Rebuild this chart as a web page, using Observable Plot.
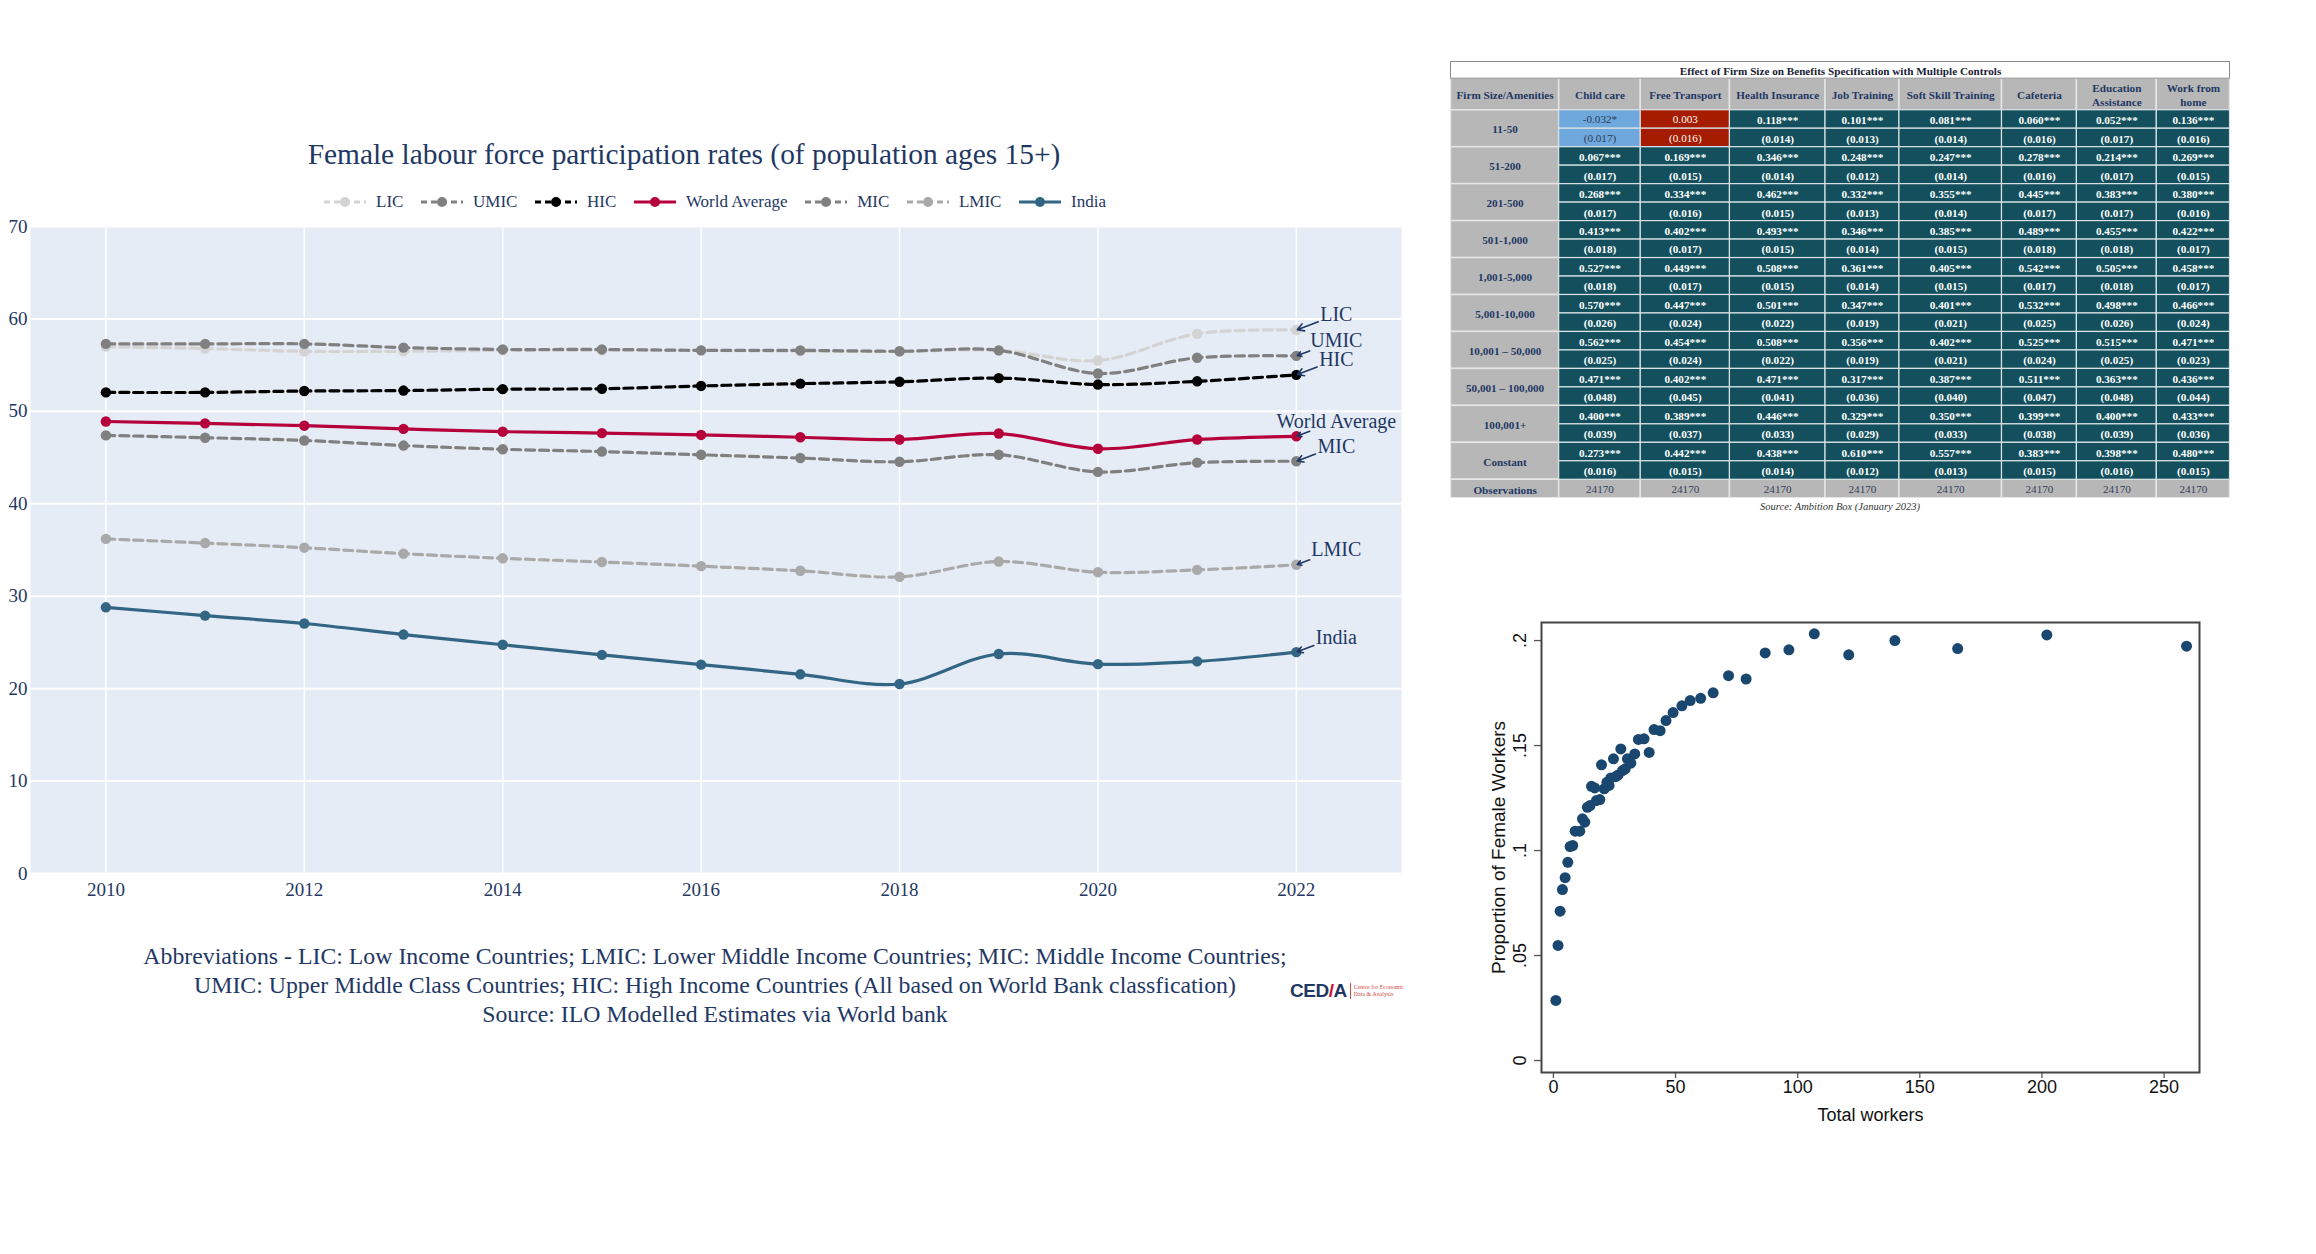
<!DOCTYPE html>
<html><head><meta charset="utf-8">
<script src="https://cdn.jsdelivr.net/npm/d3@7"></script>
<script src="https://cdn.jsdelivr.net/npm/@observablehq/plot@0.6"></script>
<style>
html,body{margin:0;padding:0;background:#fff;}
body{width:2316px;height:1254px;position:relative;overflow:hidden;font-family:"Liberation Serif","Times New Roman",serif;color:#1f3864;}
.abs{position:absolute;}
#legend{display:flex;align-items:center;justify-content:center;font-size:17px;}
#legend .item{display:flex;align-items:center;margin:0 8.8px;}
#legend svg{margin-right:10px;}
.cap{text-align:center;font-size:23.8px;line-height:29px;}
</style></head><body>
<div id="title" class="abs" style="left:0;top:138px;width:1368px;text-align:center;font-size:29.4px;line-height:32px;">Female labour force participation rates (of population ages 15+)</div>
<div id="legend" class="abs" style="left:0;top:192px;width:1430px;height:20px;"></div>
<div id="main" class="abs" style="left:0;top:215px;width:1420px;height:700px;"></div>
<div class="abs cap" style="left:0;top:942px;width:1430px;">Abbreviations - LIC: Low Income Countries; LMIC: Lower Middle Income Countries; MIC: Middle Income Countries;<br>UMIC: Upper Middle Class Countries; HIC: High Income Countries (All based on World Bank classfication)<br>Source: ILO Modelled Estimates via World bank</div>
<div class="abs" style="left:1290px;top:980px;display:flex;align-items:center;">
  <span style="font-family:'Liberation Sans',Arial,sans-serif;font-weight:bold;font-size:19px;color:#1f3864;letter-spacing:-0.5px;">CE<span style="color:#1f3864;">D</span><span style="color:#c8102e;">/</span>A</span>
  <span style="display:inline-block;width:1px;height:16px;background:#d04a4a;margin:0 3px;"></span>
  <span style="font-size:6px;line-height:7px;color:#d04a4a;">Centre for Economic<br>Data &amp; Analysis</span>
</div>
<div id="table" class="abs" style="left:1450px;top:61px;width:780px;height:437px;"></div>
<div class="abs" style="left:1450px;top:501px;width:780px;text-align:center;font-style:italic;font-size:10.5px;color:#333;">Source: Ambition Box (January 2023)</div>
<div id="scatter" class="abs" style="left:1480px;top:600px;width:740px;height:530px;"></div>
<script>
// ---------------- main chart data ----------------
const years = [2010, 2011, 2012, 2013, 2014, 2015, 2016, 2017, 2018, 2019, 2020, 2021, 2022];
const seriesNames = ["LIC", "UMIC", "HIC", "World Average", "MIC", "LMIC", "India"];
const licValues   = [57.0, 56.8, 56.5, 56.5, 56.6, 56.6, 56.6, 56.5, 56.5, 56.6, 55.5, 58.4, 58.8];
const umicValues  = [57.3, 57.3, 57.3, 56.9, 56.7, 56.7, 56.6, 56.6, 56.5, 56.6, 54.1, 55.8, 56.0];
const hicValues   = [52.05, 52.05, 52.2, 52.25, 52.4, 52.45, 52.75, 53.0, 53.2, 53.6, 52.9, 53.25, 53.95];
const worldValues = [48.9, 48.7, 48.45, 48.1, 47.8, 47.65, 47.45, 47.2, 46.95, 47.6, 45.95, 46.95, 47.3];
const micValues   = [47.4, 47.15, 46.85, 46.3, 45.9, 45.65, 45.3, 44.95, 44.55, 45.3, 43.45, 44.45, 44.6];
const lmicValues  = [36.2, 35.75, 35.25, 34.6, 34.1, 33.7, 33.25, 32.75, 32.1, 33.75, 32.6, 32.85, 33.4];
const indiaValues = [28.8, 27.9, 27.05, 25.85, 24.75, 23.65, 22.6, 21.55, 20.5, 23.75, 22.65, 22.95, 23.95];
const xTickValues = [2010, 2012, 2014, 2016, 2018, 2020, 2022];
const yTickValues = [0, 10, 20, 30, 40, 50, 60, 70];

// styles (not data)
const navy = "#1f3864";
const serif = "'Liberation Serif','Times New Roman',serif";
const seriesStyle = {
  "LIC":           {color: "#d3d3d3", dash: "9,5"},
  "UMIC":          {color: "#808080", dash: "9,5"},
  "HIC":           {color: "#000000", dash: "9,5"},
  "World Average": {color: "#b5003b", dash: null},
  "MIC":           {color: "#808080", dash: "9,5"},
  "LMIC":          {color: "#a9a9a9", dash: "9,5"},
  "India":         {color: "#336584", dash: null}
};
const seriesValues = [licValues, umicValues, hicValues, worldValues, micValues, lmicValues, indiaValues];
const rows = seriesNames.flatMap((name, s) => years.map((year, i) => ({series: name, year, value: seriesValues[s][i]})));

// legend
const legend = document.getElementById("legend");
seriesNames.forEach(name => {
  const st = seriesStyle[name];
  const item = document.createElement("div");
  item.className = "item";
  item.innerHTML = `<svg width="42" height="14"><line x1="0" y1="7" x2="42" y2="7" stroke="${st.color}" stroke-width="3" ${st.dash ? 'stroke-dasharray="6,4"' : ''}/><circle cx="21" cy="7" r="5" fill="${st.color}"/></svg><span>${name}</span>`;
  legend.appendChild(item);
});

// main chart geometry
const W = 1420, H = 700, mL = 30, mR = 19, mT = 11, mB = 42;
const xDomain = [2009.24, 2023.06], yDomain = [0, 70];
const pxPerYear = (W - mL - mR) / (xDomain[1] - xDomain[0]);
const pxPerUnit = (H - mT - mB) / (yDomain[1] - yDomain[0]);

// annotations: label offset relative to last point (px), like plotly ax/ay
const annOffset = [40, -15];
const canvas = document.createElement("canvas").getContext("2d");
canvas.font = "20px 'Liberation Serif'";
const lastYear = years[years.length - 1];
const annots = seriesNames.map((name, s) => {
  const v = seriesValues[s][seriesValues[s].length - 1];
  const w = canvas.measureText(name).width + 4, h = 20;
  const t = Math.min((w / 2) / Math.abs(annOffset[0]), (h / 2) / Math.abs(annOffset[1]));
  const tail = [annOffset[0] * (1 - t), annOffset[1] * (1 - t)];
  return {
    name,
    px: lastYear, py: v,
    lx: lastYear + annOffset[0] / pxPerYear, ly: v - annOffset[1] / pxPerUnit,
    tx: lastYear + tail[0] / pxPerYear, ty: v - tail[1] / pxPerUnit
  };
});

const lineMarks = seriesNames.flatMap(name => {
  const st = seriesStyle[name];
  const d = rows.filter(r => r.series === name);
  return [
    Plot.line(d, {x: "year", y: "value", stroke: st.color, strokeWidth: 3.2, strokeDasharray: st.dash ?? undefined, curve: "catmull-rom"}),
    Plot.dot(d, {x: "year", y: "value", fill: st.color, r: 5.2})
  ];
});

const main = Plot.plot({
  width: W, height: H, marginLeft: mL, marginRight: mR, marginTop: mT, marginBottom: mB,
  style: {fontFamily: serif, color: navy, background: "transparent"},
  x: {domain: xDomain},
  y: {domain: yDomain},
  marks: [
    Plot.frame({fill: "#e5ecf6", stroke: null}),
    Plot.gridX(xTickValues, {stroke: "#ffffff", strokeOpacity: 1, strokeWidth: 1.5}),
    Plot.gridY(yTickValues, {stroke: "#ffffff", strokeOpacity: 1, strokeWidth: 2}),
    Plot.axisX(xTickValues, {tickSize: 0, tickPadding: 9, tickFormat: d => String(d), fontSize: 19, fill: navy, label: null}),
    Plot.axisY(yTickValues, {tickSize: 0, tickPadding: 3, fontSize: 19, fill: navy, label: null}),
    ...lineMarks,
    Plot.arrow(annots, {x1: "tx", y1: "ty", x2: "px", y2: "py", stroke: navy, strokeWidth: 1.6, headLength: 7, insetEnd: 1}),
    Plot.text(annots, {x: "lx", y: "ly", text: "name", fontSize: 20, fill: navy, textAnchor: "middle", lineAnchor: "middle"})
  ]
});
document.getElementById("main").appendChild(main);

// ---------------- regression table ----------------
const tableTitle = "Effect of Firm Size on Benefits Specification with Multiple Controls";
const headerLabels = ["Firm Size/Amenities", "Child care", "Free Transport", "Health Insurance", "Job Training", "Soft Skill Training", "Cafeteria", "Education\nAssistance", "Work from\nhome"];
const firmSizes = ["11-50", "51-200", "201-500", "501-1,000", "1,001-5,000", "5,001-10,000", "10,001 – 50,000", "50,001 – 100,000", "100,001+", "Constant"];
const childCareCoef = ["-0.032*", "0.067***", "0.268***", "0.413***", "0.527***", "0.570***", "0.562***", "0.471***", "0.400***", "0.273***"];
const childCareSE   = ["(0.017)", "(0.017)", "(0.017)", "(0.018)", "(0.018)", "(0.026)", "(0.025)", "(0.048)", "(0.039)", "(0.016)"];
const transportCoef = ["0.003", "0.169***", "0.334***", "0.402***", "0.449***", "0.447***", "0.454***", "0.402***", "0.389***", "0.442***"];
const transportSE   = ["(0.016)", "(0.015)", "(0.016)", "(0.017)", "(0.017)", "(0.024)", "(0.024)", "(0.045)", "(0.037)", "(0.015)"];
const healthCoef    = ["0.118***", "0.346***", "0.462***", "0.493***", "0.508***", "0.501***", "0.508***", "0.471***", "0.446***", "0.438***"];
const healthSE      = ["(0.014)", "(0.014)", "(0.015)", "(0.015)", "(0.015)", "(0.022)", "(0.022)", "(0.041)", "(0.033)", "(0.014)"];
const jobCoef       = ["0.101***", "0.248***", "0.332***", "0.346***", "0.361***", "0.347***", "0.356***", "0.317***", "0.329***", "0.610***"];
const jobSE         = ["(0.013)", "(0.012)", "(0.013)", "(0.014)", "(0.014)", "(0.019)", "(0.019)", "(0.036)", "(0.029)", "(0.012)"];
const softCoef      = ["0.081***", "0.247***", "0.355***", "0.385***", "0.405***", "0.401***", "0.402***", "0.387***", "0.350***", "0.557***"];
const softSE        = ["(0.014)", "(0.014)", "(0.014)", "(0.015)", "(0.015)", "(0.021)", "(0.021)", "(0.040)", "(0.033)", "(0.013)"];
const cafeCoef      = ["0.060***", "0.278***", "0.445***", "0.489***", "0.542***", "0.532***", "0.525***", "0.511***", "0.399***", "0.383***"];
const cafeSE        = ["(0.016)", "(0.016)", "(0.017)", "(0.018)", "(0.017)", "(0.025)", "(0.024)", "(0.047)", "(0.038)", "(0.015)"];
const eduCoef       = ["0.052***", "0.214***", "0.383***", "0.455***", "0.505***", "0.498***", "0.515***", "0.363***", "0.400***", "0.398***"];
const eduSE         = ["(0.017)", "(0.017)", "(0.017)", "(0.018)", "(0.018)", "(0.026)", "(0.025)", "(0.048)", "(0.039)", "(0.016)"];
const wfhCoef       = ["0.136***", "0.269***", "0.380***", "0.422***", "0.458***", "0.466***", "0.471***", "0.436***", "0.433***", "0.480***"];
const wfhSE         = ["(0.016)", "(0.015)", "(0.016)", "(0.017)", "(0.017)", "(0.024)", "(0.023)", "(0.044)", "(0.036)", "(0.015)"];
const observations  = [24170, 24170, 24170, 24170, 24170, 24170, 24170, 24170];

const coefCols = [childCareCoef, transportCoef, healthCoef, jobCoef, softCoef, cafeCoef, eduCoef, wfhCoef];
const seCols = [childCareSE, transportSE, healthSE, jobSE, softSE, cafeSE, eduSE, wfhSE];

// table layout (style)
const colW = [108.3, 81.7, 89.3, 95.7, 74, 102.7, 75, 80, 73.3];
const titleH = 16.7, headH = 31.6, rowH = 18.5;
const colX = [0]; colW.forEach(w => colX.push(colX[colX.length - 1] + w));
const TW = colX[colX.length - 1];
const bodyTop = titleH + headH;
const TH = bodyTop + rowH * (firmSizes.length * 2 + 1);
const gray = "#b7b7b7", teal = "#134f5c", lightBlue = "#6fa8dc", red = "#a61c00";
const sigFill = c => {
  const stars = (c.match(/\*/g) || []).length;
  return stars >= 2 ? teal : stars === 1 ? lightBlue : red;
};
const sigText = c => {
  const stars = (c.match(/\*/g) || []).length;
  return stars === 1 ? "#2b3b57" : "#ffffff";
};

const cells = [], boldTexts = [], plainTexts = [];
cells.push({x1: 0, x2: TW, y1: 0, y2: titleH, fill: "#ffffff", stroke: "#8c8c8c"});
boldTexts.push({x: TW / 2, y: titleH / 2, text: tableTitle, fill: "#1a2236"});
headerLabels.forEach((h, j) => {
  cells.push({x1: colX[j], x2: colX[j + 1], y1: titleH, y2: bodyTop, fill: gray, stroke: "#e6e6e6"});
  boldTexts.push({x: (colX[j] + colX[j + 1]) / 2, y: titleH + headH / 2, text: h, fill: navy});
});
firmSizes.forEach((f, i) => {
  const y1 = bodyTop + i * 2 * rowH;
  cells.push({x1: 0, x2: colX[1], y1, y2: y1 + 2 * rowH, fill: gray, stroke: "#e6e6e6"});
  boldTexts.push({x: colX[1] / 2, y: y1 + rowH, text: f, fill: navy});
  coefCols.forEach((col, j) => {
    const c = col[i], se = seCols[j][i];
    const fill = sigFill(c), tf = sigText(c);
    const xa = colX[j + 1], xb = colX[j + 2];
    cells.push({x1: xa, x2: xb, y1, y2: y1 + rowH, fill, stroke: "#d9e2e5"});
    cells.push({x1: xa, x2: xb, y1: y1 + rowH, y2: y1 + 2 * rowH, fill, stroke: "#d9e2e5"});
    const target = fill === teal ? boldTexts : plainTexts;
    target.push({x: (xa + xb) / 2, y: y1 + rowH / 2, text: c, fill: tf});
    target.push({x: (xa + xb) / 2, y: y1 + rowH * 1.5, text: se, fill: tf});
  });
});
const obsY = bodyTop + firmSizes.length * 2 * rowH;
cells.push({x1: 0, x2: colX[1], y1: obsY, y2: obsY + rowH, fill: gray, stroke: "#e6e6e6"});
boldTexts.push({x: colX[1] / 2, y: obsY + rowH / 2, text: "Observations", fill: navy});
observations.forEach((o, j) => {
  cells.push({x1: colX[j + 1], x2: colX[j + 2], y1: obsY, y2: obsY + rowH, fill: gray, stroke: "#e6e6e6"});
  plainTexts.push({x: (colX[j + 1] + colX[j + 2]) / 2, y: obsY + rowH / 2, text: String(o), fill: "#34405a"});
});

const table = Plot.plot({
  width: Math.ceil(TW) + 1, height: Math.ceil(TH) + 1, margin: 0,
  style: {fontFamily: serif, background: "transparent"},
  x: {domain: [0, TW], range: [0.5, TW + 0.5], axis: null},
  y: {domain: [0, TH], range: [0.5, TH + 0.5], axis: null},
  color: {type: "identity"},
  marks: [
    Plot.rect(cells.filter(c => c.stroke === "#e6e6e6"), {x1: "x1", x2: "x2", y1: "y1", y2: "y2", fill: "fill", stroke: "#e6e6e6", strokeWidth: 1.5}),
    Plot.rect(cells.filter(c => c.stroke === "#d9e2e5"), {x1: "x1", x2: "x2", y1: "y1", y2: "y2", fill: "fill", stroke: "#d9e2e5", strokeWidth: 1.2}),
    Plot.rect(cells.filter(c => c.stroke === "#8c8c8c"), {x1: "x1", x2: "x2", y1: "y1", y2: "y2", fill: "fill", stroke: "#8c8c8c", strokeWidth: 1}),
    Plot.text(boldTexts, {x: "x", y: "y", text: "text", fill: "fill", fontSize: 11.2, fontWeight: "bold", lineAnchor: "middle", lineHeight: 1.3}),
    Plot.text(plainTexts, {x: "x", y: "y", text: "text", fill: "fill", fontSize: 11.2, lineAnchor: "middle"})
  ]
});
document.getElementById("table").appendChild(table);

// ---------------- scatter ----------------
const totalWorkers = [1.0, 1.9, 2.75, 3.7, 4.8, 5.9, 6.85, 7.9, 8.9, 10.8, 11.9, 12.85, 13.9, 15.0, 15.6, 16.9, 17.6, 19.0, 19.7, 20.8, 21.9, 22.8, 23.5, 24.6, 25.5, 26.5, 27.6, 28.3, 29.4, 30.3, 31.7, 33.3, 34.8, 37.1, 39.2, 41.2, 43.7, 46.1, 49.0, 52.6, 56.0, 60.3, 65.4, 71.7, 78.9, 86.7, 96.4, 106.8, 120.9, 139.8, 165.5, 202.0, 259.2];
const femaleShare  = [0.0286, 0.0548, 0.0711, 0.0814, 0.0871, 0.0944, 0.1019, 0.1024, 0.1092, 0.1092, 0.1151, 0.1135, 0.1206, 0.1214, 0.1306, 0.1298, 0.1238, 0.1243, 0.1408, 0.1294, 0.1325, 0.131, 0.1346, 0.1437, 0.1352, 0.136, 0.1484, 0.1381, 0.1389, 0.1437, 0.1416, 0.146, 0.1529, 0.1532, 0.1467, 0.1576, 0.1571, 0.1619, 0.1657, 0.1689, 0.1714, 0.1725, 0.1751, 0.1833, 0.1817, 0.1941, 0.1956, 0.2032, 0.1932, 0.2, 0.1962, 0.2027, 0.1973];
const scatterXTicks = [0, 50, 100, 150, 200, 250];
const scatterYTicks = [0, 0.05, 0.1, 0.15, 0.2];
const scatterPts = totalWorkers.map((x, i) => ({x, y: femaleShare[i]}));
const sans = "'Liberation Sans',Arial,sans-serif";
const stataFmt = d => d === 0 ? "0" : String(d).replace(/^0/, "");

const scatter = Plot.plot({
  width: 740, height: 530, marginLeft: 61, marginRight: 21, marginTop: 22, marginBottom: 58,
  style: {fontFamily: sans, background: "transparent"},
  x: {domain: [-4.87, 264.5]},
  y: {domain: [-0.0057, 0.2086]},
  marks: [
    Plot.axisY(scatterYTicks, {tickSize: 7, tickFormat: () => "", stroke: "#555", strokeWidth: 1.3, label: null}),
    Plot.axisX(scatterXTicks, {tickSize: 6, tickPadding: 2, fontSize: 18, fill: "#111", stroke: "#555", strokeWidth: 1.3, label: null}),
    Plot.text(scatterYTicks, {y: d => d, frameAnchor: "left", dx: -21, rotate: -90, text: stataFmt, fontSize: 18, fill: "#111", textAnchor: "middle", lineAnchor: "middle"}),
    Plot.text(["Proportion of Female Workers"], {frameAnchor: "left", dx: -43, rotate: -90, fontSize: 19, fill: "#111", textAnchor: "middle", lineAnchor: "middle"}),
    Plot.text(["Total workers"], {frameAnchor: "bottom", dy: 36, fontSize: 18, fill: "#111", textAnchor: "middle", lineAnchor: "top"}),
    Plot.dot(scatterPts, {x: "x", y: "y", r: 5.5, fill: "#1a476f"}),
    Plot.frame({stroke: "#444", strokeWidth: 2})
  ]
});
document.getElementById("scatter").appendChild(scatter);
</script>
</body></html>
